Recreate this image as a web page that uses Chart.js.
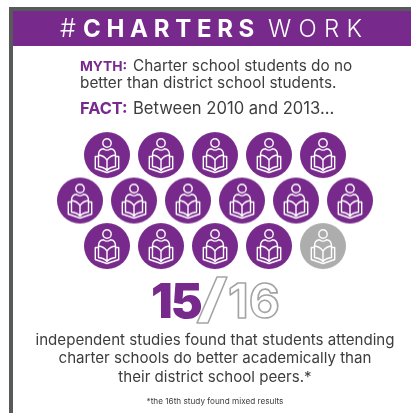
<!DOCTYPE html>
<html><head><meta charset="utf-8">
<style>html,body{margin:0;padding:0;background:#fff}#w{position:relative;width:411px;height:413px}canvas{display:block}</style>
<script src="https://cdn.jsdelivr.net/npm/chart.js@4"></script>
</head><body><div id="w"><canvas id="c" width="411" height="413"></canvas></div>
<script>
// one mark per independent study; grid column / row of each icon
const studyColumns = [1,2,3,4,5, 0.5,1.5,2.5,3.5,4.5,5.5, 1,2,3,4,5];
const studyRows    = [1,1,1,1,1, 2,2,2,2,2,2, 3,3,3,3,3];
const studyOutcomes = ['better','better','better','better','better','better','better','better','better','better','better','better','better','better','better','mixed'];
const studiesBetter = '15';
const studiesTotal = '16';
const headlineBold = 'CHARTERS';
const headlineLight = 'WORK';
const mythLines = ['Charter school students do no','better than district school students.'];
const factLine = 'Between 2010 and 2013...';
const bodyLines = ['independent studies found that students attending','charter schools do better academically than','their district school peers.*'];
const footnote = '*the 16th study found mixed results';

const PURPLE='#772a8c', GRAY='#adadad', INK='#3d3d3f', FRAME='#58595b';
const FONT='Inter, "Open Sans", sans-serif';

function icon(color){
  const s=48, c=document.createElement('canvas'); c.width=c.height=s;
  const g=c.getContext('2d'); g.translate(s/2,s/2);
  g.fillStyle=color; g.beginPath(); g.arc(0,0,23,0,Math.PI*2); g.fill();
  g.strokeStyle='#fff'; g.lineWidth=1.4; g.lineJoin='round'; g.lineCap='round';
  g.beginPath(); g.arc(0,-12,4.2,0,Math.PI*2); g.stroke();
  // shoulders
  g.beginPath(); g.moveTo(-8.5,0); g.quadraticCurveTo(-8.5,-6,-3.5,-6.3);
  g.quadraticCurveTo(0,-3.5,3.5,-6.3); g.quadraticCurveTo(8.5,-6,8.5,0); g.stroke();
  // open book: pages
  g.beginPath(); g.moveTo(-8.5,0); g.quadraticCurveTo(-3,0.5,0,5); g.quadraticCurveTo(3,0.5,8.5,0);
  g.moveTo(-8.5,0); g.lineTo(-8.5,11.5); g.quadraticCurveTo(-3,12,0,15.5); g.quadraticCurveTo(3,12,8.5,11.5); g.lineTo(8.5,0);
  g.moveTo(0,5); g.lineTo(0,15.5); g.stroke();
  // open book: cover
  g.beginPath(); g.moveTo(-8.5,1.5); g.lineTo(-11.7,1.5); g.lineTo(-11.7,13.5); g.lineTo(0,17.5); g.lineTo(11.7,13.5); g.lineTo(11.7,1.5); g.lineTo(8.5,1.5); g.stroke();
  return c;
}
const purpleIcon=icon(PURPLE), grayIcon=icon(GRAY);

const page={id:'page',
  beforeDraw(ch){const x=ch.ctx; x.save();
    x.fillStyle='#fff'; x.fillRect(0,0,411,413);
    x.fillStyle=FRAME; x.fillRect(9,7,402,4); x.fillRect(9,7,4,406);
    x.fillStyle=PURPLE; x.fillRect(13,11,398,35);
    x.restore();},
  afterDraw(ch){const x=ch.ctx; x.save(); x.textBaseline='alphabetic';
    const t=(s,px,py,font,col,al='left',ls='0px')=>{x.font=font;x.fillStyle=col;x.textAlign=al;x.letterSpacing=ls;x.fillText(s,px,py);x.letterSpacing='0px';};
    t('#',60,37,'300 25px '+FONT,'#fff');
    t(headlineBold,83,37,'700 24px '+FONT,'#fff','left','5.7px');
    t(headlineLight,268,37,'300 24px '+FONT,'#fff','left','7.3px');
    t('MYTH:',80,71,'700 13.8px '+FONT,PURPLE);
    t(mythLines[0],133,71,'400 15.35px '+FONT,INK);
    t(mythLines[1],80,88,'400 15.35px '+FONT,INK);
    t('FACT:',80,114,'700 16.4px '+FONT,PURPLE);
    t(factLine,133,114,'400 16.6px '+FONT,INK);
    // fraction
    x.font='900 48px '+FONT; x.textAlign='left';x.fillStyle=PURPLE;x.letterSpacing='-2px';
    x.fillText(studiesBetter,151,318);
    x.letterSpacing='0px';
    x.font='700 48px '+FONT; x.strokeStyle='#a4a4a6'; x.lineWidth=1.6; x.lineJoin='round';
    x.beginPath();x.moveTo(197,323);x.lineTo(217,277);x.lineTo(227,277);x.lineTo(208,323);x.closePath();x.stroke();
    x.strokeText(studiesTotal,228,318);
    bodyLines.forEach((s,i)=>t(s,215,[345,363,382][i],'400 15.1px '+FONT,INK,'center'));
    t(footnote,215,404,'400 8.2px '+FONT,INK,'center');
    x.restore();}
};
new Chart(document.getElementById('c'),{
  type:'scatter',
  data:{datasets:[{label:'Independent studies',
    data:studyColumns.map((c,i)=>({x:c,y:studyRows[i]})),
    pointStyle:studyOutcomes.map(o=>o==='better'?purpleIcon:grayIcon),
    pointRadius:24,pointHoverRadius:24}]},
  options:{responsive:false,animation:false,
    layout:{padding:0,autoPadding:false},
    plugins:{legend:{display:false},tooltip:{enabled:false}},
    scales:{
      x:{type:'linear',display:false,min:-0.981,max:6.63},
      y:{type:'linear',display:false,reverse:true,min:-2.407,max:6.67}
    }},
  plugins:[page]
});
</script></body></html>
